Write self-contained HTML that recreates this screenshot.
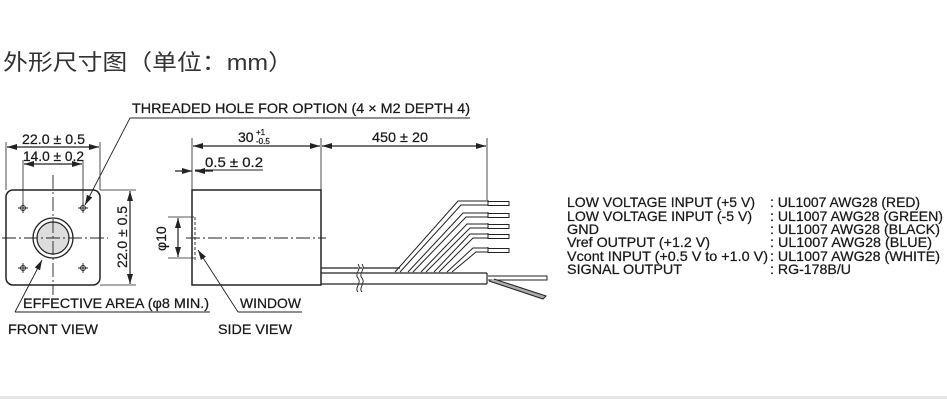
<!DOCTYPE html>
<html><head><meta charset="utf-8"><style>
html,body{margin:0;padding:0;background:#fff;}
svg{display:block;}
text{font-family:"Liberation Sans",Arial,sans-serif;fill:#1a1a1a;stroke:#1a1a1a;stroke-width:0.25;}
</style></head><body>
<svg width="947" height="400" viewBox="0 0 947 400" xmlns="http://www.w3.org/2000/svg">
<defs>
<marker id="a" viewBox="0 0 10 6" refX="10" refY="3" markerWidth="10" markerHeight="6" orient="auto-start-reverse" markerUnits="userSpaceOnUse"><path d="M0,0 L10,3 L0,6 z" fill="#222"/></marker>
</defs>
<text x="3" y="70" font-size="22" textLength="290" lengthAdjust="spacingAndGlyphs" style="font-family:'Liberation Sans','Noto Sans CJK SC',sans-serif;fill:#333;stroke:none">外形尺寸图（单位：mm）</text>

<g stroke="#222" stroke-width="1.2" fill="none">
<!-- front view -->
<rect x="6" y="190" width="94" height="95" rx="7" stroke-width="1.5"/>
<circle cx="53" cy="238" r="20" stroke-width="1.3"/>
<circle cx="53" cy="238" r="16" fill="#ddd" stroke-width="1.2"/>
<g stroke-width="0.9">
<circle cx="23" cy="208" r="2.5"/><circle cx="83" cy="208" r="2.5"/>
<circle cx="23" cy="268" r="2.5"/><circle cx="83" cy="268" r="2.5"/>
<path d="M18,208h10M23,203v10M78,208h10M83,203v10M18,268h10M23,263v10M78,268h10M83,263v10"/>
</g>
<path d="M2,238H108M53,175V295" stroke-dasharray="14,3,2,3" stroke-width="0.9"/>
<!-- dims front -->
<path d="M6,142V190M100,142V190" stroke-width="0.8"/>
<path d="M7,147H99" marker-start="url(#a)" marker-end="url(#a)"/>
<path d="M23,160V205M83,160V205" stroke-width="0.8"/>
<path d="M24,164H82" marker-start="url(#a)" marker-end="url(#a)"/>
<path d="M100,190H136M100,285H136" stroke-width="0.8"/>
<path d="M130,191V284" marker-start="url(#a)" marker-end="url(#a)"/>
<!-- leaders -->
<path d="M130,118L85,205" marker-end="url(#a)" stroke-width="0.9"/>
<path d="M130,118H470" stroke-width="0.9"/>
<path d="M15,312L42,260" marker-end="url(#a)" stroke-width="0.9"/>
<path d="M15,312H210" stroke-width="0.9"/>

<!-- side view -->
<rect x="192" y="190" width="129" height="95" stroke-width="1.5"/>
<path d="M195,217V260" stroke-dasharray="3,2" stroke-width="0.9"/>
<path d="M186,238H326" stroke-dasharray="14,3,2,3" stroke-width="0.9"/>
<path d="M192,138V190M321,138V190M487,138V200" stroke-width="0.8"/>
<path d="M193,146H320" marker-start="url(#a)" marker-end="url(#a)"/>
<path d="M322,146H486" marker-start="url(#a)" marker-end="url(#a)"/>
<path d="M175,171H192" marker-end="url(#a)"/>
<path d="M213,171H195" marker-end="url(#a)"/>
<path d="M195,170H263" stroke-width="0.9"/>
<path d="M168,217H194M168,258H194" stroke-width="0.8"/>
<path d="M178,218V257" marker-start="url(#a)" marker-end="url(#a)"/>
<path d="M238,312L198,250" marker-end="url(#a)" stroke-width="0.9"/>
<path d="M238,312H302" stroke-width="0.9"/>

<!-- cables -->
<path d="M321,268H400M321,273H487M321,284H487M487,273V284" stroke-width="1.2"/>
<path d="M358,264c4,5,-4,10,0,14c4,5,-4,10,0,14M362,264c4,5,-4,10,0,14c4,5,-4,10,0,14" stroke-width="0.9" fill="#fff"/>
<g stroke-width="1">
<path d="M395,272L458,201H488M400,272L461,205H488"/>
<path d="M408,272L463,213H488M413,272L466,217H488"/>
<path d="M421,272L467,224H488M426,272L470,228H488"/>
<path d="M434,272L470,234H488M439,272L473,238H488"/>
<path d="M447,272L473,248H488M452,272L476,252H488"/>
<path d="M488,200V206M488,212V218M488,223V229M488,233V239M488,247V253"/>
<path d="M488,201.5H509V205.5H488M488,213.5H509V217.5H488M488,224.5H509V228.5H488M488,234.5H509V238.5H488M488,248.5H509V252.5H488"/>
<path d="M488,276H547V280H488"/>
<path d="M489,281L543,299L546,296L494,279" fill="#aaa"/>
</g>
</g>

<g font-size="14">
<text x="132" y="113" textLength="338" lengthAdjust="spacingAndGlyphs">THREADED HOLE FOR OPTION (4 × M2 DEPTH 4)</text>
<text x="22" y="144" textLength="63" lengthAdjust="spacingAndGlyphs">22.0 ± 0.5</text>
<text x="23" y="161" textLength="61" lengthAdjust="spacingAndGlyphs">14.0 ± 0.2</text>
<text transform="translate(127,268) rotate(-90)" textLength="62" lengthAdjust="spacingAndGlyphs">22.0 ± 0.5</text>
<text x="23" y="308" textLength="186" lengthAdjust="spacingAndGlyphs">EFFECTIVE AREA (φ8 MIN.)</text>
<text x="8" y="334" textLength="90" lengthAdjust="spacingAndGlyphs">FRONT VIEW</text>
<text x="238" y="142">30</text>
<text x="256" y="135" font-size="8">+1</text>
<text x="256" y="144" font-size="8">-0.5</text>
<text x="372" y="142" textLength="56" lengthAdjust="spacingAndGlyphs">450 ± 20</text>
<text x="205" y="167" textLength="58" lengthAdjust="spacingAndGlyphs">0.5 ± 0.2</text>
<text transform="translate(166,251) rotate(-90)">φ10</text>
<text x="240" y="308" textLength="61" lengthAdjust="spacingAndGlyphs">WINDOW</text>
<text x="218" y="334" textLength="74" lengthAdjust="spacingAndGlyphs">SIDE VIEW</text>

<text x="567" y="207" textLength="188" lengthAdjust="spacingAndGlyphs">LOW VOLTAGE INPUT (+5 V)</text>
<text x="567" y="221" textLength="185" lengthAdjust="spacingAndGlyphs">LOW VOLTAGE INPUT (-5 V)</text>
<text x="567" y="234" textLength="32" lengthAdjust="spacingAndGlyphs">GND</text>
<text x="567" y="247" textLength="143" lengthAdjust="spacingAndGlyphs">Vref OUTPUT (+1.2 V)</text>
<text x="567" y="261" textLength="201" lengthAdjust="spacingAndGlyphs">Vcont INPUT (+0.5 V to +1.0 V)</text>
<text x="567" y="274" textLength="115" lengthAdjust="spacingAndGlyphs">SIGNAL OUTPUT</text>
<text x="770" y="207" textLength="150" lengthAdjust="spacingAndGlyphs">: UL1007 AWG28 (RED)</text>
<text x="770" y="221" textLength="173" lengthAdjust="spacingAndGlyphs">: UL1007 AWG28 (GREEN)</text>
<text x="770" y="234" textLength="170" lengthAdjust="spacingAndGlyphs">: UL1007 AWG28 (BLACK)</text>
<text x="770" y="247" textLength="162" lengthAdjust="spacingAndGlyphs">: UL1007 AWG28 (BLUE)</text>
<text x="770" y="261" textLength="170" lengthAdjust="spacingAndGlyphs">: UL1007 AWG28 (WHITE)</text>
<text x="770" y="274" textLength="81" lengthAdjust="spacingAndGlyphs">: RG-178B/U</text>
</g>
<rect x="0" y="396" width="947" height="3" fill="#e6e6e6"/>
</svg>
</body></html>
